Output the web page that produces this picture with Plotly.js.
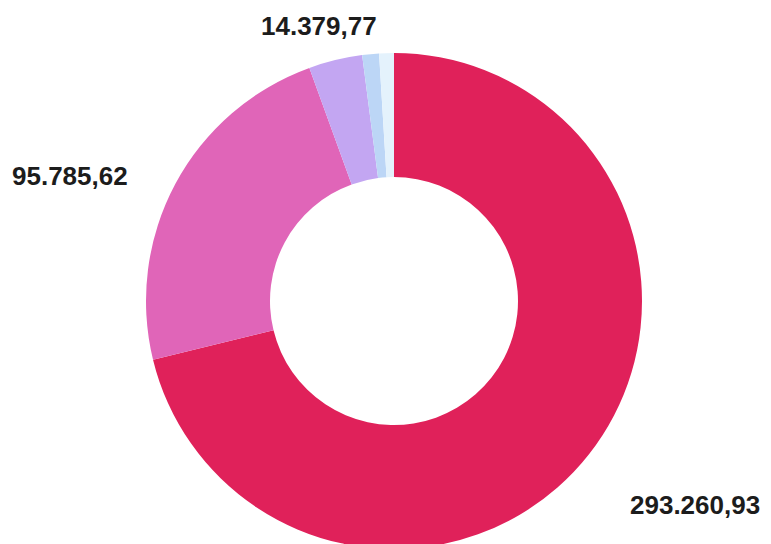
<!DOCTYPE html>
<html>
<head>
<meta charset="utf-8">
<script src="https://cdn.plot.ly/plotly-3.0.1.min.js"></script>
<style>
  html, body { margin: 0; padding: 0; background: #ffffff; overflow: hidden; width: 771px; height: 544px; }
  #chart { width: 771px; height: 549px; }
</style>
</head>
<body>
<div id="chart"></div>
<script>
// Data
var categories = ['Categoria 1', 'Categoria 2', 'Categoria 3', 'Categoria 4', 'Categoria 5'];
var values = [293260.93, 95785.62, 14379.77, 4500, 3950];
var colors = ['#e0215a', '#e065b8', '#c3a6f2', '#bcd6f6', '#e4f2fc'];
var labelled = [true, true, true, false, false];

function fmt(v) {
  var parts = v.toFixed(2).split('.');
  var intPart = parts[0].replace(/\B(?=(\d{3})+(?!\d))/g, '.');
  return intPart + ',' + parts[1];
}

// label positions (paper coords) for the labelled slices
var labelPos = [
  {x: 0.902, y: 0.080},
  {x: 0.0908, y: 0.6794},
  {x: 0.4137, y: 0.9526}
];

var annotations = [];
for (var i = 0; i < values.length; i++) {
  if (!labelled[i]) continue;
  annotations.push({
    xref: 'paper', yref: 'paper',
    x: labelPos[i].x, y: labelPos[i].y,
    xanchor: 'center', yanchor: 'middle',
    text: fmt(values[i]),
    showarrow: false,
    font: {family: 'Liberation Sans, Arial, sans-serif', size: 26, color: '#1c1c1c', weight: 'bold'}
  });
}

var trace = {
  type: 'pie',
  labels: categories,
  values: values,
  hole: 0.5,
  sort: false,
  direction: 'clockwise',
  rotation: 0,
  marker: {colors: colors, line: {width: 0}},
  textinfo: 'none',
  hoverinfo: 'label+value',
  showlegend: false,
  domain: {x: [146/771, 642/771], y: [0, 496/549]}
};

var layout = {
  width: 771,
  height: 549,
  margin: {l: 0, r: 0, t: 0, b: 0},
  paper_bgcolor: '#ffffff',
  plot_bgcolor: '#ffffff',
  showlegend: false,
  annotations: annotations
};

Plotly.newPlot('chart', [trace], layout, {displayModeBar: false, staticPlot: true});
</script>
</body>
</html>
